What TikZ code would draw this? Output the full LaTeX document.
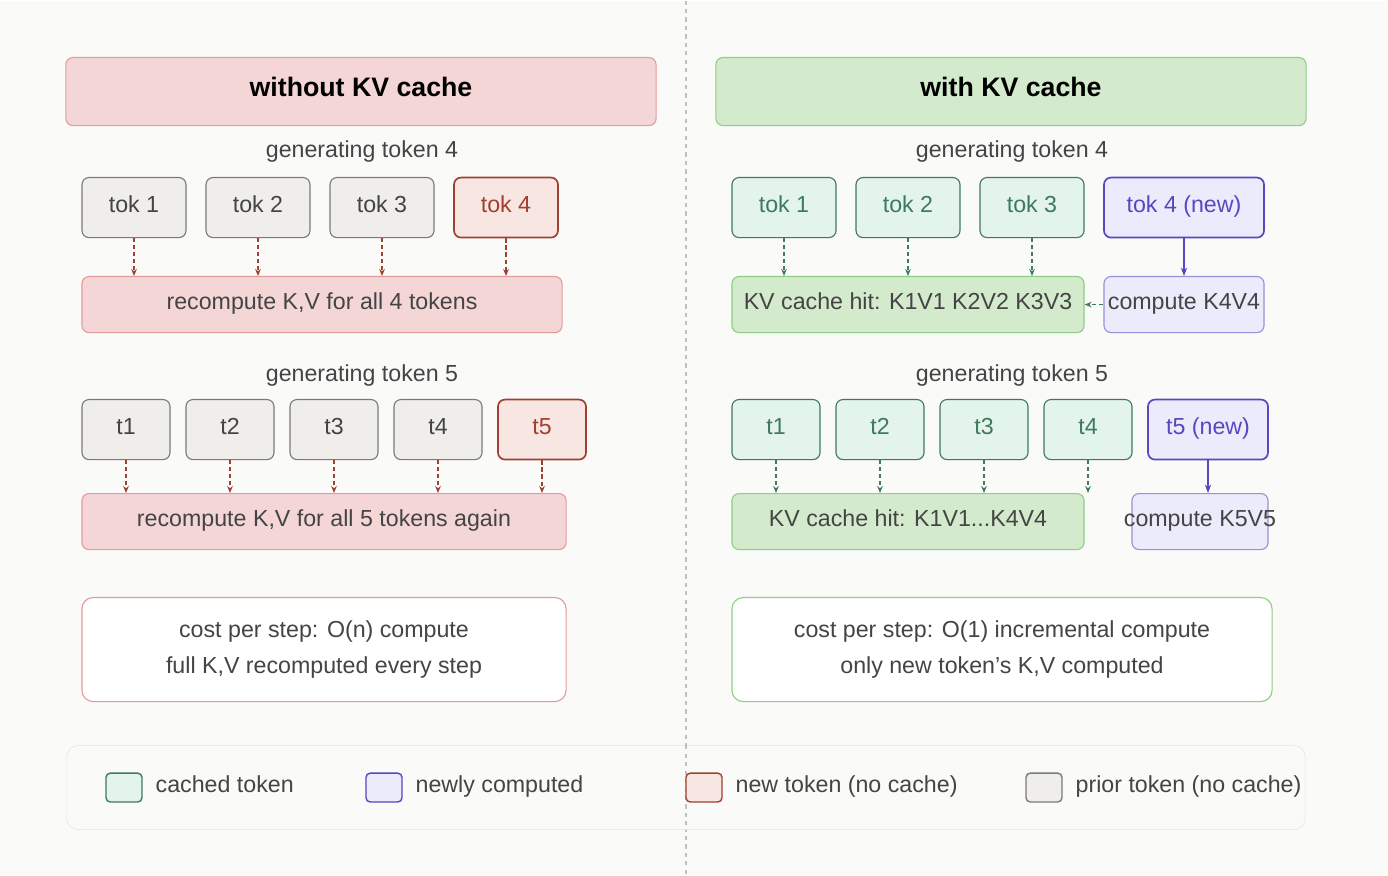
\documentclass[tikz,border=0pt]{standalone}
\usepackage{fontspec}
\setmainfont{Liberation Sans}
\usetikzlibrary{positioning}
\usetikzlibrary{arrows.meta}
\definecolor{bgc}{HTML}{FAFAF8}
\definecolor{pinkf}{HTML}{F4D6D7}
\definecolor{pinkd}{HTML}{E39C9C}
\definecolor{greenf}{HTML}{D3EACC}
\definecolor{greend}{HTML}{8FCF84}
\definecolor{greyf}{HTML}{EFEEEA}
\definecolor{greyd}{HTML}{7A7A76}
\definecolor{redf}{HTML}{F8E6E2}
\definecolor{redd}{HTML}{A04030}
\definecolor{cachef}{HTML}{E3F4EC}
\definecolor{cached}{HTML}{3F7A5C}
\definecolor{newf}{HTML}{ECEBFB}
\definecolor{newd}{HTML}{5548C0}
\definecolor{txt}{HTML}{444444}
\begin{document}
\begin{tikzpicture}[x=0.025cm, y=-0.025cm,
  font=\fontsize{16.5}{19}\selectfont, text=txt,
  every node/.style={text height=1.6ex, text depth=0.4ex},
  header/.style={draw, rounded corners=5pt, line width=0.8pt, minimum width=14.75cm, minimum height=1.7cm, font=\fontsize{19}{22}\selectfont\bfseries, text=black},
  prior/.style={draw=greyd, fill=greyf, rounded corners=5pt, line width=0.8pt, minimum height=1.5cm},
  fresh/.style={draw=redd, fill=redf, text=redd, rounded corners=5pt, line width=1.2pt, minimum height=1.5cm},
  cache/.style={draw=cached, fill=cachef, text=cached, rounded corners=5pt, line width=0.8pt, minimum height=1.5cm},
  newtok/.style={draw=newd, fill=newf, text=newd, rounded corners=5pt, line width=1.2pt, minimum height=1.5cm},
  work/.style={draw=pinkd, fill=pinkf, rounded corners=5pt, line width=0.8pt, minimum height=1.4cm},
  hit/.style={draw=greend, fill=greenf, rounded corners=5pt, line width=0.8pt, minimum height=1.4cm},
  comp/.style={draw=newd!60, fill=newf, rounded corners=5pt, line width=0.8pt, minimum height=1.4cm},
  cost/.style={draw, fill=white, rounded corners=8pt, line width=0.8pt, minimum height=2.6cm, align=center, text height=, text depth=},
  swatch/.style={draw, rounded corners=3pt, line width=1pt, minimum width=0.9cm, minimum height=0.72cm},
  redarrow/.style={-{Stealth[length=5pt, width=4pt]}, densely dashed, draw=redd, thick},
  greenarrow/.style={-{Stealth[length=5pt, width=4pt]}, densely dashed, draw=cached, thick},
  purplearrow/.style={-{Stealth[length=6pt]}, draw=newd, thick}
]
\fill[bgc] (0,0) rectangle (1388,874);
\draw[gray!50, dashed, thick] (686,0) -- (686,874);

% headers
\node[header, draw=pinkd, fill=pinkf] (hl) at (361,91) {without KV cache};
\node[header, draw=greend, fill=greenf] (hr) at (1011,91) {with KV cache};

% left side, token 4
\node (gl4) at (362,152) {generating token 4};
\node[prior, minimum width=2.6cm] (la1) at (134,207) {tok 1};
\node[prior, minimum width=2.6cm] (la2) at (258,207) {tok 2};
\node[prior, minimum width=2.6cm] (la3) at (382,207) {tok 3};
\node[fresh, minimum width=2.6cm] (la4) at (506,207) {tok 4};
\node[work, minimum width=12cm] (lr4) at (322,304) {recompute K,V for all 4 tokens};
\foreach \i in {1,...,4}
  \draw[redarrow] (la\i.south) -- (la\i.south |- lr4.north);

% left side, token 5
\node (gl5) at (362,376) {generating token 5};
\node[prior, minimum width=2.2cm] (lb1) at (126,429) {t1};
\node[prior, minimum width=2.2cm] (lb2) at (230,429) {t2};
\node[prior, minimum width=2.2cm] (lb3) at (334,429) {t3};
\node[prior, minimum width=2.2cm] (lb4) at (438,429) {t4};
\node[fresh, minimum width=2.2cm] (lb5) at (542,429) {t5};
\node[work, minimum width=12.1cm] (lr5) at (324,521) {recompute K,V for all 5 tokens again};
\foreach \i in {1,...,5}
  \draw[redarrow] (lb\i.south) -- (lb\i.south |- lr5.north);

\node[cost, draw=pinkd, minimum width=12.1cm] (lc) at (324,649) {cost per step: O(n) compute\\[6pt]full K,V recomputed every step};

% right side, token 4
\node (gr4) at (1012,152) {generating token 4};
\node[cache, minimum width=2.6cm] (ra1) at (784,207) {tok 1};
\node[cache, minimum width=2.6cm] (ra2) at (908,207) {tok 2};
\node[cache, minimum width=2.6cm] (ra3) at (1032,207) {tok 3};
\node[newtok, minimum width=4cm] (ra4) at (1184,207) {tok 4 (new)};
\node[hit, minimum width=8.8cm] (rh4) at (908,304) {KV cache hit: K1V1 K2V2 K3V3};
\node[comp, minimum width=4cm] (rc4) at (1184,304) {};
\node (rt4) at (1184,304) {compute K4V4};
\foreach \i in {1,...,3}
  \draw[greenarrow] (ra\i.south) -- (ra\i.south |- rh4.north);
\draw[purplearrow] (ra4.south) -- (rc4.north);
\draw[greenarrow] (rc4.west) -- (rh4.east);

% right side, token 5
\node (gr5) at (1012,376) {generating token 5};
\node[cache, minimum width=2.2cm] (rb1) at (776,429) {t1};
\node[cache, minimum width=2.2cm] (rb2) at (880,429) {t2};
\node[cache, minimum width=2.2cm] (rb3) at (984,429) {t3};
\node[cache, minimum width=2.2cm] (rb4) at (1088,429) {t4};
\node[newtok, minimum width=3cm] (rb5) at (1208,429) {t5 (new)};
\node[hit, minimum width=8.8cm] (rh5) at (908,521) {KV cache hit: K1V1...K4V4};
\node[comp, minimum width=3.4cm] (rc5) at (1200,521) {};
\node (rt5) at (1200,521) {compute K5V5};
\foreach \i in {1,...,4}
  \draw[greenarrow] (rb\i.south) -- (rb\i.south |- rh5.north);
\draw[purplearrow] (rb5.south) -- (rb5.south |- rc5.north);

\node[cost, draw=greend, minimum width=13.5cm] (rc) at (1002,649) {cost per step: O(1) incremental compute\\[6pt]only new token's K,V computed};

% legend
\node[draw=gray!20, fill=bgc, rounded corners=8pt, minimum width=30.95cm, minimum height=2.1cm] (leg) at (686,787) {};
\draw[gray!50, dashed, thick] (leg.north -| 686,0) -- (leg.south -| 686,0);
\node[swatch, draw=cached, fill=cachef] (s1) at (124,787) {};
\node[right=0.2cm of s1] (l1) {cached token};
\node[swatch, draw=newd, fill=newf] (s2) at (384,787) {};
\node[right=0.2cm of s2] (l2) {newly computed};
\node[swatch, draw=redd, fill=redf] (s3) at (704,787) {};
\node[right=0.2cm of s3] (l3) {new token (no cache)};
\node[swatch, draw=greyd, fill=greyf] (s4) at (1044,787) {};
\node[right=0.2cm of s4] (l4) {prior token (no cache)};
\end{tikzpicture}
\end{document}
